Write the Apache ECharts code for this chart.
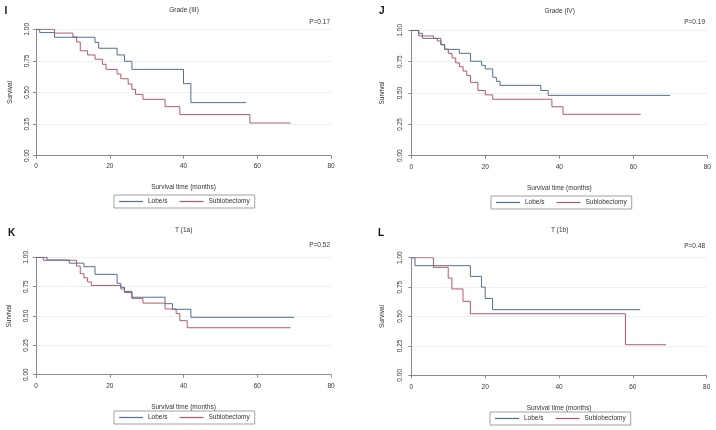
<!DOCTYPE html>
<html>
<head>
<meta charset="utf-8">
<title>Survival by resection type</title>
<script src="https://cdn.jsdelivr.net/npm/echarts@6/dist/echarts.min.js"></script>
<style>
	html, body { margin: 0; padding: 0; background: #fff; }
	#main { width: 716px; height: 430px; }
</style>
</head>
<body>
<div id="main"></div>
<script>
// 各组生存曲线 [时间(月), 生存率]
var gradeIIILobe = [[0, 1], [1, 0.974], [5, 0.937], [16, 0.897], [17, 0.85], [22, 0.797], [24, 0.747], [26, 0.683], [40, 0.57], [42, 0.42], [57, 0.42]];
var gradeIIISub = [[0, 1], [5, 0.97], [10, 0.94], [11, 0.90], [12, 0.83], [14, 0.797], [16, 0.763], [18, 0.723], [19, 0.683], [22, 0.646], [23, 0.609], [25, 0.567], [26, 0.525], [27, 0.485], [29, 0.446], [35, 0.388], [39, 0.325], [58, 0.259], [69, 0.259]];

var gradeIVLobe = [[0, 1], [2, 0.976], [3, 0.936], [8, 0.885], [9, 0.848], [13, 0.816], [16, 0.753], [19, 0.72], [20, 0.692], [22, 0.625], [23, 0.593], [24, 0.561], [35, 0.52], [37, 0.481], [70, 0.481]];
var gradeIVSub = [[0, 1], [2, 0.955], [6, 0.935], [7, 0.915], [8, 0.885], [9, 0.85], [10, 0.815], [11, 0.78], [12, 0.74], [13, 0.71], [14, 0.675], [15, 0.64], [16, 0.585], [18, 0.52], [20, 0.485], [22, 0.45], [38, 0.39], [41, 0.33], [62, 0.33]];

var t1aLobe = [[0, 1], [3, 0.977], [9, 0.95], [13, 0.92], [16, 0.855], [22, 0.778], [23, 0.745], [24, 0.71], [26, 0.66], [35, 0.605], [37, 0.557], [42, 0.489], [70, 0.489]];
var t1aSub = [[0, 1], [2, 0.975], [11, 0.925], [12, 0.86], [13, 0.825], [14, 0.79], [15, 0.76], [23, 0.73], [24, 0.70], [26, 0.65], [29, 0.61], [35, 0.56], [38, 0.52], [39, 0.46], [41, 0.40], [69, 0.40]];

var t1bLobe = [[0, 1], [1, 0.932], [16, 0.841], [19, 0.75], [20, 0.654], [22, 0.558], [62, 0.558]];
var t1bSub = [[0, 1], [6, 0.918], [10, 0.827], [11, 0.734], [14, 0.629], [16, 0.523], [58, 0.26], [69, 0.26]];

var panelLetters = ['I', 'J', 'K', 'L'];
var panelTitles = ['Grade (III)', 'Grade (IV)', 'T (1a)', 'T (1b)'];
var pValues = ['P=0.17', 'P=0.19', 'P=0.52', 'P=0.48'];
var groupNames = ['Lobe/s', 'Sublobectomy'];
var xTicks = [0, 20, 40, 60, 80];
var yTicks = [0, 0.25, 0.5, 0.75, 1];

var curves = [
	[gradeIIILobe, gradeIIISub],
	[gradeIVLobe, gradeIVSub],
	[t1aLobe, t1aSub],
	[t1bLobe, t1bSub]
];

// 版面位置
var boxes = [
	{ left: 36, top: 29.3, width: 295, height: 126.4, xOff: 3.3, yOff: 3.7, lblM: 2, nameGap: 19, legX: 114, legY: 195 },
	{ left: 411.3, top: 30.3, width: 296, height: 125.4, xOff: 4.3, yOff: 4, lblM: 4, nameGap: 22, legX: 491, legY: 196 },
	{ left: 36, top: 257.3, width: 295, height: 117.4, xOff: 4, yOff: 4, lblM: 2, nameGap: 19, legX: 114, legY: 411 },
	{ left: 411.3, top: 257.7, width: 295.4, height: 117.6, xOff: 4, yOff: 4, lblM: 4, nameGap: 22, legX: 490, legY: 412 }
];
var letterPos = [[4.5, 11.7], [379, 11.5], [8, 233.5], [378, 233.5]];
var titlePos = [[184, 10.7], [559.7, 11.7], [183.7, 230], [559.7, 230.7]];
var pPos = [[330, 22], [705, 22.7], [330, 245], [705, 246]];

var colors = ['#52708e', '#b35a67'];
var FONT = '"Liberation Sans", Arial, sans-serif';

var grids = [], xAxes = [], yAxes = [], series = [], legends = [], texts = [];

for (var i = 0; i < 4; i++) {
	var b = boxes[i];
	grids.push({ left: b.left, top: b.top, width: b.width, height: b.height });
	xAxes.push({
		gridIndex: i,
		type: 'value',
		min: xTicks[0],
		max: xTicks[xTicks.length - 1],
		interval: xTicks[1] - xTicks[0],
		offset: b.xOff,
		name: 'Survival time (months)',
		nameLocation: 'middle',
		nameGap: 25,
		nameTextStyle: { fontSize: 6.5, color: '#333', fontFamily: FONT },
		axisLine: { show: true, lineStyle: { color: '#8a8a8a', width: 1 } },
		axisTick: { show: true, length: 3, lineStyle: { color: '#8a8a8a' } },
		axisLabel: { fontSize: 6.5, color: '#333', margin: 4, fontFamily: FONT },
		splitLine: { show: false }
	});
	yAxes.push({
		gridIndex: i,
		type: 'value',
		min: yTicks[0],
		max: yTicks[yTicks.length - 1],
		interval: yTicks[1] - yTicks[0],
		offset: b.yOff,
		name: 'Survival',
		nameLocation: 'middle',
		nameRotate: 90,
		nameGap: b.nameGap,
		nameTextStyle: { fontSize: 6.5, color: '#333', fontFamily: FONT },
		axisLine: { show: true, lineStyle: { color: '#8a8a8a', width: 1 } },
		axisTick: { show: true, length: 3, lineStyle: { color: '#8a8a8a' } },
		axisLabel: {
			rotate: 90,
			fontSize: 6.5,
			color: '#333',
			margin: b.lblM,
			fontFamily: FONT,
			formatter: function(v) {
				return v.toFixed(2);
			}
		},
		splitLine: { show: true, lineStyle: { color: '#eaf0f4', width: 1 } }
	});
	for (var k = 0; k < 2; k++) {
		series.push({
			name: groupNames[k],
			type: 'line',
			step: 'end',
			xAxisIndex: i,
			yAxisIndex: i,
			data: curves[i][k],
			symbol: 'none',
			color: colors[k],
			lineStyle: { width: 1, color: colors[k] },
			z: 3 - k
		});
	}
	legends.push({
		left: b.legX,
		top: b.legY,
		orient: 'horizontal',
		data: groupNames,
		icon: 'rect',
		itemWidth: 24,
		itemHeight: 1.2,
		itemGap: 12,
		padding: [3, 5],
		borderColor: '#8a8a8a',
		borderWidth: 0.8,
		selectedMode: false,
		textStyle: { fontSize: 6.5, color: '#333', fontFamily: FONT }
	});
	texts.push({
		type: 'text',
		x: letterPos[i][0],
		y: letterPos[i][1],
		style: { text: panelLetters[i], font: 'bold 10px ' + FONT, fill: '#111', textAlign: 'left', textVerticalAlign: 'middle' }
	});
	texts.push({
		type: 'text',
		x: titlePos[i][0],
		y: titlePos[i][1],
		style: { text: panelTitles[i], font: '6.5px ' + FONT, fill: '#333', textAlign: 'center', textVerticalAlign: 'middle' }
	});
	texts.push({
		type: 'text',
		x: pPos[i][0],
		y: pPos[i][1],
		style: { text: pValues[i], font: '6.5px ' + FONT, fill: '#333', textAlign: 'right', textVerticalAlign: 'middle' }
	});
}

var option = {
	backgroundColor: '#fff',
	animation: false,
	grid: grids,
	xAxis: xAxes,
	yAxis: yAxes,
	legend: legends,
	graphic: texts,
	series: series
};

var myChart = echarts.init(document.getElementById('main'));
myChart.setOption(option);
</script>
</body>
</html>
